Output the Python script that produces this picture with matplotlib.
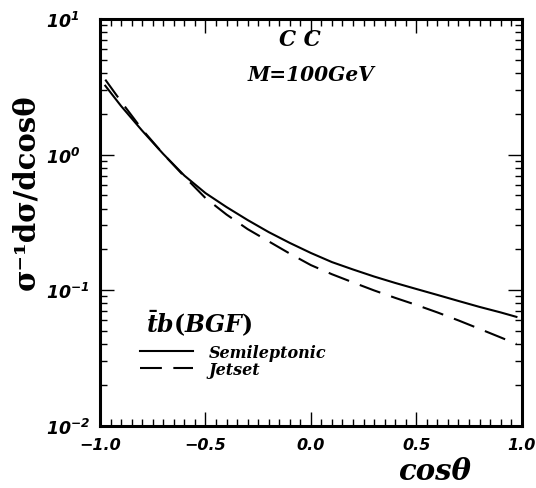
import matplotlib
matplotlib.use('Agg')
import matplotlib.pyplot as plt
from matplotlib.ticker import FixedLocator, MultipleLocator, LogLocator, NullFormatter
import numpy as np

# values
cos_theta = [-0.975, -0.9, -0.8, -0.7, -0.6, -0.5, -0.4, -0.3, -0.2, -0.1, 0.0,
             0.1, 0.2, 0.3, 0.4, 0.5, 0.6, 0.7, 0.8, 0.9, 0.975]
semileptonic = [3.22, 2.28, 1.50, 1.01, 0.700, 0.520, 0.410, 0.329, 0.268, 0.223, 0.188,
                0.161, 0.142, 0.126, 0.113, 0.102, 0.0922, 0.0832, 0.0752, 0.0685, 0.0635]
jetset = [3.57, 2.46, 1.53, 1.01, 0.689, 0.478, 0.361, 0.282, 0.229, 0.186, 0.153,
          0.131, 0.114, 0.0995, 0.0877, 0.0778, 0.0685, 0.0598, 0.0518, 0.0448, 0.0401]

x_ticks = [-1.0, -0.5, 0.0, 0.5, 1.0]
x_tick_labels = ['\u22121.0', '\u22120.5', '0.0', '0.5', '1.0']
y_ticks = [1e-2, 1e-1, 1e0, 1e1]
y_tick_labels = [r'$\mathbf{10^{-2}}$', r'$\mathbf{10^{-1}}$', r'$\mathbf{10^{0}}$', r'$\mathbf{10^{1}}$']

plt.rcParams['mathtext.fontset'] = 'custom'
plt.rcParams['mathtext.it'] = 'DejaVu Serif:bold:italic'
plt.rcParams['mathtext.rm'] = 'DejaVu Serif:bold'
plt.rcParams['mathtext.bf'] = 'DejaVu Sans:bold:italic'

serif_bi = dict(family=['DejaVu Serif'], weight='bold', style='italic')
sans_bi = dict(family=['DejaVu Sans'], weight='bold', style='italic')

fig = plt.figure(figsize=(5.36, 4.89), dpi=100)
ax = fig.add_axes([0.1866, 0.1274, 0.7867, 0.8317])

ax.plot(cos_theta, semileptonic, 'k-', lw=1.5, label='Semileptonic')
ax.plot(cos_theta, jetset, 'k--', lw=1.5, dashes=(10.5, 5.5), label='Jetset')

ax.set_yscale('log')
ax.set_xlim(-1.0, 1.0)
ax.set_ylim(1e-2, 1e1)

ax.xaxis.set_major_locator(FixedLocator(x_ticks))
ax.xaxis.set_minor_locator(MultipleLocator(0.05))
ax.set_xticklabels(x_tick_labels, fontsize=11.5, **sans_bi)
ax.yaxis.set_major_locator(FixedLocator(y_ticks))
ax.yaxis.set_minor_locator(LogLocator(base=10, subs=np.arange(2, 10)))
ax.yaxis.set_minor_formatter(NullFormatter())
ax.set_yticklabels(y_tick_labels, fontsize=12.5, ha='left')

ax.tick_params(which='both', direction='in', top=True, right=True, width=1.0)
ax.tick_params(which='major', length=10)
ax.tick_params(which='minor', length=5)
ax.tick_params(axis='y', which='major', pad=39)
ax.tick_params(axis='x', which='major', pad=8)
for s in ax.spines.values():
    s.set_linewidth(2.2)

ax.text(0.475, 0.95, 'C C', transform=ax.transAxes, ha='center', va='center',
        fontsize=15.5, **serif_bi)
ax.text(0.50, 0.865, 'M=100GeV', transform=ax.transAxes, ha='center', va='center',
        fontsize=14.5, **serif_bi)
ax.text(0.235, 0.255, r'$\bar{t}b(BGF)$', transform=ax.transAxes, ha='center', va='center',
        fontsize=17)

leg = ax.legend(loc='upper left', bbox_to_anchor=(0.095, 0.202), frameon=False,
                borderpad=0, borderaxespad=0,
                handlelength=3.3, handletextpad=1.0, labelspacing=0.0,
                prop=dict(size=11.5, **serif_bi))

fig.text(0.048, 0.607, '\u03c3\u207b\u00b9d\u03c3/dcos\u03b8', rotation=90,
         ha='center', va='center', fontsize=21, family=['DejaVu Serif'], weight='bold')
fig.text(0.81, 0.035, 'cos\u03b8', ha='center', va='center', fontsize=21,
         family=['DejaVu Serif'], weight='bold', style='italic')

fig.savefig('out.png', dpi=100)
